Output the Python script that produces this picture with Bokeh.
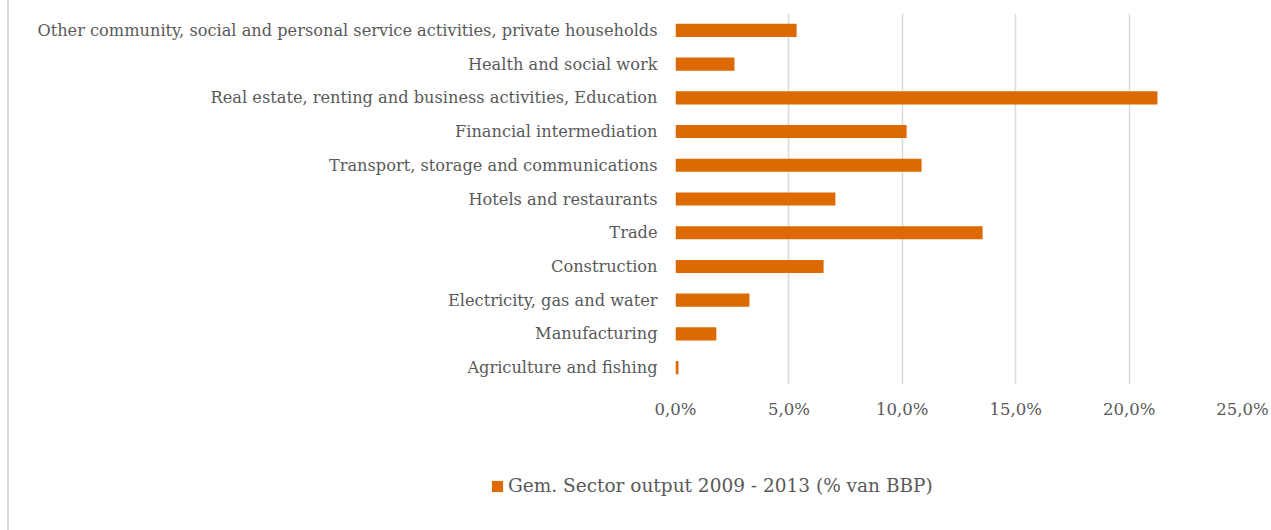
from bokeh.plotting import figure
from bokeh.layouts import column
from bokeh.models import ColumnDataSource, FactorRange, Range1d, FixedTicker, Legend, LegendItem
from bokeh.embed import file_html
from bokeh.resources import INLINE

sectors = [
    "Agriculture and fishing",
    "Manufacturing",
    "Electricity, gas and water",
    "Construction",
    "Trade",
    "Hotels and restaurants",
    "Transport, storage and communications",
    "Financial intermediation",
    "Real estate, renting and business activities, Education",
    "Health and social work",
    "Other community, social and personal service activities, private households",
]
output_pct = [0.13, 1.80, 3.26, 6.53, 13.54, 7.05, 10.85, 10.19, 21.25, 2.60, 5.34]
tick_values = [0, 5, 10, 15, 20, 25]
tick_labels = ["0,0%", "5,0%", "10,0%", "15,0%", "20,0%", "25,0%"]
series_name = "Gem. Sector output 2009 - 2013 (% van BBP)"

FONT = "DejaVu Serif"
GREY = "#595959"
ORANGE = "#dd6a00"

src = ColumnDataSource(dict(sector=sectors, value=output_pct))

p = figure(
    width=1262, height=440,
    y_range=FactorRange(factors=sectors, range_padding=0),
    x_range=Range1d(0, 25),
    output_backend="svg", toolbar_location=None,
    min_border_left=666, min_border_right=29, min_border_top=13, min_border_bottom=56,
)
p.outline_line_color = None

r = p.hbar(y="sector", right="value", height=0.39, source=src, color=ORANGE, line_color=None)

p.xaxis.ticker = FixedTicker(ticks=tick_values)
p.xaxis.major_label_overrides = {v: l for v, l in zip(tick_values, tick_labels)}
p.xaxis.axis_line_color = None
p.xaxis.major_tick_line_color = None
p.xaxis.minor_tick_line_color = None
p.xaxis.major_label_standoff = 9
p.xaxis.major_label_text_font = FONT
p.xaxis.major_label_text_font_size = "16.5px"
p.xaxis.major_label_text_color = GREY

p.yaxis.axis_line_color = None
p.yaxis.major_tick_line_color = None
p.yaxis.minor_tick_line_color = None
p.yaxis.major_label_standoff = 12
p.yaxis.major_label_text_font = FONT
p.yaxis.major_label_text_font_size = "16.2px"
p.yaxis.major_label_text_color = GREY

p.ygrid.grid_line_color = None
p.xgrid.grid_line_color = "#d9d9d9"
p.xgrid.grid_line_width = 1.5

# legend strip below the chart
lf = figure(width=1262, height=90, x_range=Range1d(0, 1), y_range=Range1d(0, 1),
            output_backend="svg", toolbar_location=None, min_border=0)
lf.outline_line_color = None
lf.axis.visible = False
lf.grid.grid_line_color = None
leg_src = ColumnDataSource(dict(y=[0.5], right=[float("nan")]))
lr = lf.hbar(y="y", right="right", height=0.5, source=leg_src, color=ORANGE, line_color=None)

legend = Legend(items=[LegendItem(label=series_name, renderers=[lr])],
                location=(481, 34), orientation="horizontal",
                label_text_font=FONT, label_text_font_size="18.5px", label_text_color=GREY,
                glyph_width=14, glyph_height=14, label_standoff=4,
                border_line_color=None, background_fill_alpha=0,
                margin=0, padding=0)
lf.add_layout(legend, "center")

layout = column(p, column(lf, spacing=0), spacing=0)
layout.styles = {"border-left": "2px solid #d9d9d9", "margin-left": "7px"}

open("out.html", "w").write(file_html(layout, INLINE))
